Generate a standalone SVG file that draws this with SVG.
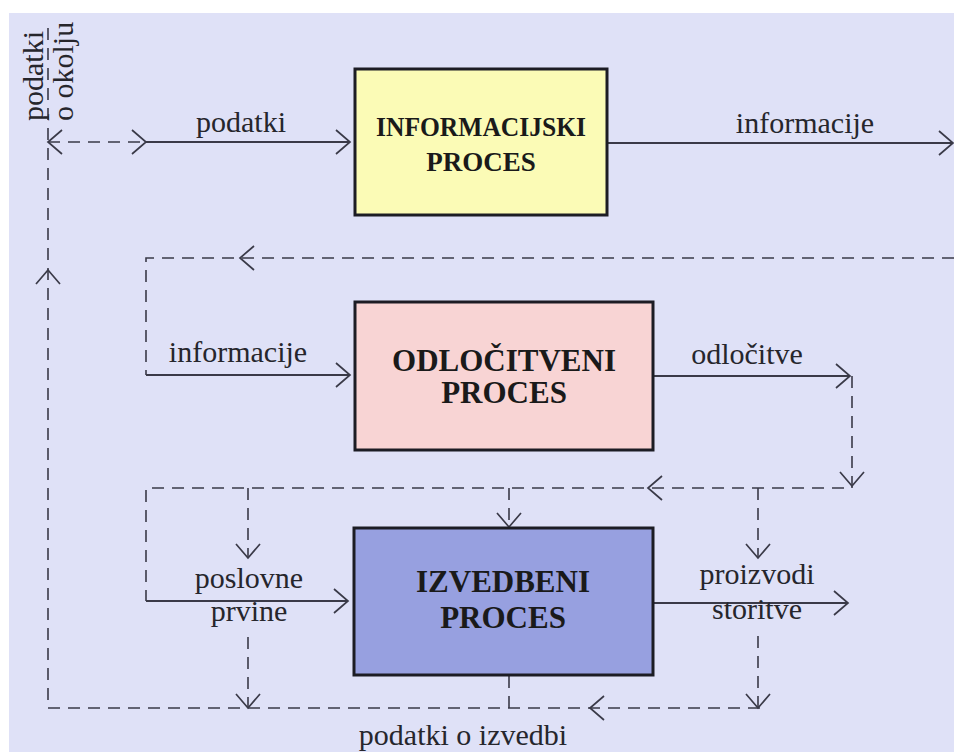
<svg xmlns="http://www.w3.org/2000/svg" width="954" height="752" viewBox="0 0 954 752">
<style>
.bg{fill:#dfe1f7}
.box{stroke:#1c1c24;stroke-width:3}
.sol{fill:none;stroke:#3a3a48;stroke-width:1.8}
.dash{fill:none;stroke:#3a3a48;stroke-width:1.6;stroke-dasharray:12 8}
.ah{fill:none;stroke:#3a3a48;stroke-width:1.7}
.lbl{font-family:"Liberation Serif","Times New Roman",serif;font-size:30px;fill:#26262c;text-anchor:middle}
.ttl{font-family:"Liberation Serif","Times New Roman",serif;font-weight:bold;font-size:31px;fill:#1a1a1a;text-anchor:middle}
</style>
<defs>
<path id="ah" class="ah" d="M-14,-12 L0,0 L-14,12"/>
</defs>
<rect x="0" y="0" width="954" height="752" fill="#ffffff"/>
<rect class="bg" x="9" y="13" width="945" height="739"/>

<g id="connectors">
  <path class="dash" d="M48,28 V708 H766"/>
  <path class="dash" d="M48,142 H146"/>
  <path class="sol" d="M146,142 H350"/>
  <path class="sol" d="M607,143 H953"/>
  <path class="dash" d="M954,258 H146 V375"/>
  <path class="sol" d="M146,375 H350"/>
  <path class="sol" d="M653,376 H850"/>
  <path class="dash" d="M852,376 V488 H146 V601"/>
  <path class="sol" d="M146,601 H348"/>
  <path class="dash" d="M248,488 V558"/>
  <path class="dash" d="M509,488 V527"/>
  <path class="dash" d="M758,488 V558"/>
  <path class="sol" d="M653,603 H848"/>
  <path class="dash" d="M248,637 V708"/>
  <path class="dash" d="M758,636 V708"/>
  <path class="dash" d="M509,676 V708"/>
  <use href="#ah" transform="translate(48,142) rotate(180)"/>
  <use href="#ah" transform="translate(48,270) rotate(-90)"/>
  <use href="#ah" transform="translate(146,142)"/>
  <use href="#ah" transform="translate(350,142)"/>
  <use href="#ah" transform="translate(953,143)"/>
  <use href="#ah" transform="translate(240,258) rotate(180)"/>
  <use href="#ah" transform="translate(350,375)"/>
  <use href="#ah" transform="translate(850,376)"/>
  <use href="#ah" transform="translate(852,486) rotate(90)"/>
  <use href="#ah" transform="translate(648,488) rotate(180)"/>
  <use href="#ah" transform="translate(248,558) rotate(90)"/>
  <use href="#ah" transform="translate(509,527) rotate(90)"/>
  <use href="#ah" transform="translate(758,558) rotate(90)"/>
  <use href="#ah" transform="translate(348,601)"/>
  <use href="#ah" transform="translate(848,603)"/>
  <use href="#ah" transform="translate(248,708) rotate(90)"/>
  <use href="#ah" transform="translate(758,708) rotate(90)"/>
  <use href="#ah" transform="translate(590,708) rotate(180)"/>
</g>

<g id="labels">
  <text class="lbl" transform="translate(43,121) rotate(-90)" style="text-anchor:start">podatki</text>
  <text class="lbl" transform="translate(73,121) rotate(-90)" style="text-anchor:start">o okolju</text>
  <text class="lbl" x="241" y="132">podatki</text>
  <text class="lbl" x="805" y="133">informacije</text>
  <text class="lbl" x="238" y="362">informacije</text>
  <text class="lbl" x="747" y="364">odločitve</text>
  <text class="lbl" x="249" y="588">poslovne</text>
  <text class="lbl" x="249" y="621">prvine</text>
  <text class="lbl" x="757" y="584">proizvodi</text>
  <text class="lbl" x="757" y="619">storitve</text>
  <text class="lbl" x="463" y="745">podatki o izvedbi</text>
</g>

<g id="informacijski">
  <rect class="box" x="355" y="69" width="252" height="146" fill="#fbfbb6"/>
  <text class="ttl" x="481" y="136" style="font-size:27px" textLength="210" lengthAdjust="spacingAndGlyphs">INFORMACIJSKI</text>
  <text class="ttl" x="481" y="171" style="font-size:27px">PROCES</text>
</g>
<g id="odlocitveni">
  <rect class="box" x="355" y="302" width="298" height="148" fill="#f8d4d4"/>
  <text class="ttl" x="504" y="371">ODLOČITVENI</text>
  <text class="ttl" x="504" y="403">PROCES</text>
</g>
<g id="izvedbeni">
  <rect class="box" x="354" y="528" width="299" height="147" fill="#97a0e0"/>
  <text class="ttl" x="503" y="592">IZVEDBENI</text>
  <text class="ttl" x="503" y="628">PROCES</text>
</g>
</svg>
